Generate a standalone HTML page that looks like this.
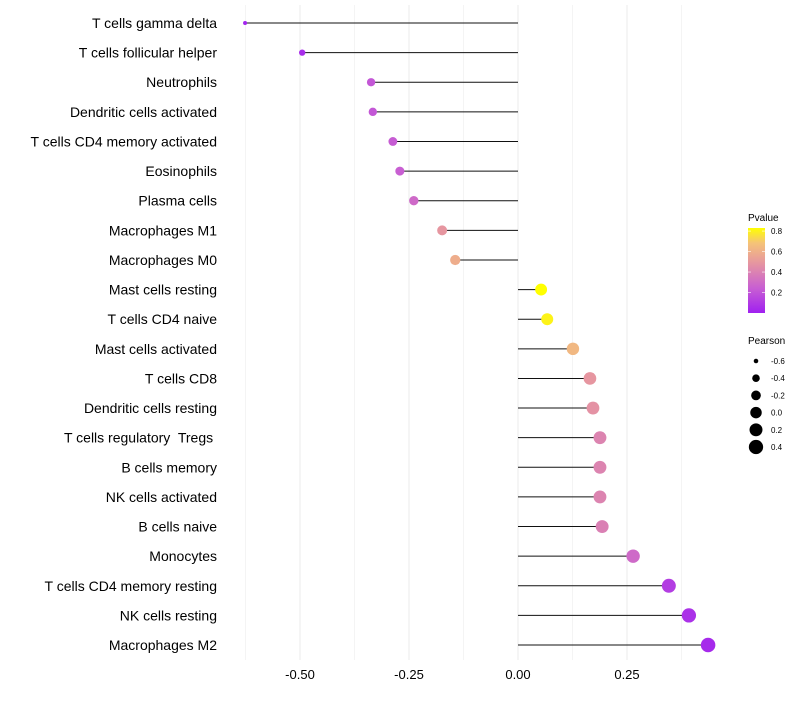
<!DOCTYPE html>
<html><head><meta charset="utf-8"><style>
body{margin:0;background:#fff;font-family:"Liberation Sans",sans-serif}
text{white-space:pre}
</style></head><body>
<svg id="chart" width="800" height="700" xmlns="http://www.w3.org/2000/svg"></svg>
<script>
const categories=["T cells gamma delta","T cells follicular helper","Neutrophils","Dendritic cells activated","T cells CD4 memory activated","Eosinophils","Plasma cells","Macrophages M1","Macrophages M0","Mast cells resting","T cells CD4 naive","Mast cells activated","T cells CD8","Dendritic cells resting","T cells regulatory  Tregs ","B cells memory","NK cells activated","B cells naive","Monocytes","T cells CD4 memory resting","NK cells resting","Macrophages M2"];
const pearson=[-0.626,-0.495,-0.337,-0.333,-0.287,-0.271,-0.239,-0.174,-0.144,0.053,0.067,0.126,0.165,0.172,0.188,0.188,0.188,0.193,0.264,0.346,0.392,0.436];
const pvalue=[0.02,0.05,0.22,0.22,0.24,0.25,0.3,0.5,0.6,0.85,0.82,0.65,0.5,0.48,0.42,0.42,0.42,0.4,0.3,0.12,0.07,0.04];
const xTicks=[-0.5,-0.25,0,0.25];
const xTickLabels=["-0.50","-0.25","0.00","0.25"];
const xMinor=[-0.625,-0.375,-0.125,0.125,0.375];
const pTicks=[0.2,0.4,0.6,0.8];
const sizeTicks=[-0.6,-0.4,-0.2,0.0,0.2,0.4];
const sizeLabels=["-0.6","-0.4","-0.2","0.0","0.2","0.4"];

const svg=document.getElementById('chart');
const NS="http://www.w3.org/2000/svg";
const x=v=>518+v*436;
const y=i=>23+i*29.62;
const rad=v=>Math.sqrt(Math.max(3,4+46*(v+0.626)));
const stops=[[0,[160,32,240]],[0.25,[200,95,210]],[0.5,[230,150,160]],[0.7,[245,195,120]],[0.85,[255,255,0]]];
function col(p){p=Math.max(0,Math.min(0.85,p));for(let k=1;k<stops.length;k++){if(p<=stops[k][0]){const a=stops[k-1],b=stops[k];const t=(p-a[0])/(b[0]-a[0]);return 'rgb('+a[1].map((c,j)=>Math.round(c+(b[1][j]-c)*t)).join(',')+')';}}return 'rgb(255,255,0)';}
function mk(tag,at,txt){const e=document.createElementNS(NS,tag);for(const k in at)e.setAttribute(k,at[k]);if(txt!==undefined)e.textContent=txt;svg.appendChild(e);return e;}

xMinor.forEach(v=>{const e=mk('line',{x1:x(v),x2:x(v),y1:5,y2:660,stroke:'#f2f2f2','stroke-width':0.8});

});
xTicks.forEach((v,i)=>{const g=mk('line',{x1:x(v),x2:x(v),y1:5,y2:660,stroke:'#ebebeb','stroke-width':1});


const t=mk('text',{x:x(v),y:679,'text-anchor':'middle','font-size':13,fill:'#000'},xTickLabels[i]);

});

categories.forEach((c,i)=>{
const l=mk('text',{x:217,y:y(i)+5,'text-anchor':'end','font-size':14,fill:'#000'},c);


const s=mk('line',{x1:x(0),x2:x(pearson[i]),y1:y(i),y2:y(i),stroke:'#111','stroke-width':1});


const d=mk('circle',{cx:x(pearson[i]),cy:y(i),r:rad(pearson[i]),fill:col(pvalue[i])});


});

const t1=mk('text',{x:748,y:221,'font-size':10},'Pvalue');


const defs=mk('defs',{});
const lg=document.createElementNS(NS,'linearGradient');lg.setAttribute('id','pg');lg.setAttribute('x1','0');lg.setAttribute('y1','1');lg.setAttribute('x2','0');lg.setAttribute('y2','0');
stops.forEach(s=>{const st=document.createElementNS(NS,'stop');st.setAttribute('offset',s[0]/0.85);st.setAttribute('stop-color','rgb('+s[1].join(',')+')');lg.appendChild(st);});
defs.appendChild(lg);
const py=p=>313-p*(313-228)/0.83;
const bar=mk('rect',{x:748,y:228,width:17,height:85,fill:'url(#pg)'});


pTicks.forEach(p=>{const t=mk('text',{x:771,y:py(p)+3,'font-size':8},p.toFixed(1));


mk('line',{x1:748,x2:751,y1:py(p),y2:py(p),stroke:'#fff','stroke-width':0.6});
mk('line',{x1:762,x2:765,y1:py(p),y2:py(p),stroke:'#fff','stroke-width':0.6});});

const t2=mk('text',{x:748,y:344,'font-size':10},'Pearson');


sizeTicks.forEach((v,i)=>{const cy=361+i*17.2;
const c=mk('circle',{cx:756,cy:cy,r:rad(v),fill:'#000'});


const t=mk('text',{x:771,y:cy+3,'font-size':8},sizeLabels[i]);

});
</script>
</body></html>
